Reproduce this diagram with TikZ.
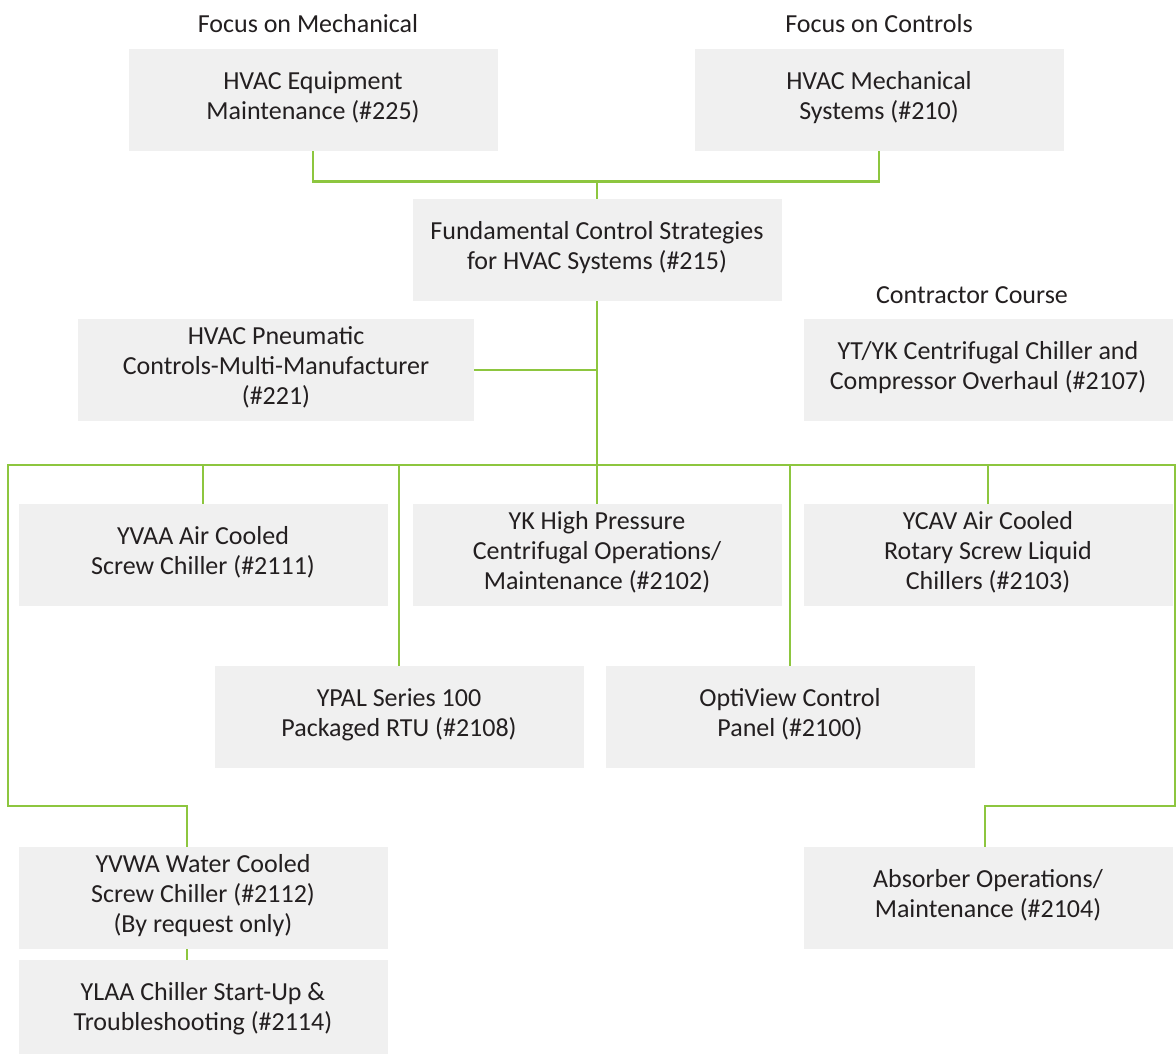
\documentclass[tikz,border=0pt]{standalone}
\usepackage{fontspec}
\setmainfont{Carlito}
\definecolor{jgreen}{HTML}{8DC63F}
\definecolor{boxgray}{HTML}{F0F0F0}
\definecolor{txt}{HTML}{231F20}
\tikzset{
  course/.style={fill=boxgray, draw=none, minimum width=369pt, minimum height=102pt,
    inner sep=0pt, align=center, text=txt, font=\fontsize{26}{30}\selectfont,
    execute at begin node=\strut, execute at end node=\strut},
  heading/.style={text=txt, font=\fontsize{26}{30}\selectfont, inner sep=0pt, anchor=base},
  link/.style={draw=jgreen, line width=2.7pt}
}
\begin{document}
\begin{tikzpicture}[x=1pt,y=-1pt]
\useasboundingbox (0,0) rectangle (1176,1053);
\clip (0,0) rectangle (1176,1053);
\fill[white] (0,0) rectangle (1176,1053);

% headings
\node[heading] (hMech) at (308,32) {Focus on Mechanical};
\node[heading] (hCtrl) at (879,32) {Focus on Controls};
\node[heading] (hContr) at (972,303) {Contractor Course};

% course boxes
\node[course] (c225) at (313,100) {HVAC Equipment\\Maintenance (\#225)};
\node[course] (c210) at (879,100) {HVAC Mechanical\\Systems (\#210)};
\node[course] (c215) at (597,250) {Fundamental Control Strategies\\for HVAC Systems (\#215)};
\node[course, minimum width=396pt] (c221) at (276,370) {HVAC Pneumatic\\Controls-Multi-Manufacturer\\(\#221)};
\node[course] (c2107) at (988,370) {YT/YK Centrifugal Chiller and\\Compressor Overhaul (\#2107)};
\node[course] (c2111) at (203,555) {YVAA Air Cooled\\Screw Chiller (\#2111)};
\node[course] (c2102) at (597,555) {YK High Pressure\\Centrifugal Operations/\\Maintenance (\#2102)};
\node[course] (c2103) at (988,555) {YCAV Air Cooled\\Rotary Screw Liquid\\Chillers (\#2103)};
\node[course] (c2108) at (399,717) {YPAL Series 100\\Packaged RTU (\#2108)};
\node[course] (c2100) at (790,717) {OptiView Control\\Panel (\#2100)};
\node[course] (c2112) at (203,898) {YVWA Water Cooled\\Screw Chiller (\#2112)\\(By request only)};
\node[course] (c2114) at (203,1011) {YLAA Chiller Start-Up \&\\Troubleshooting (\#2114)};
\node[course] (c2104) at (988,898) {Absorber Operations/\\Maintenance (\#2104)};

% connectors
\coordinate (topbus) at (597,181);
\coordinate (busL) at (8,465);
\coordinate (busR) at (1175,465);
\coordinate (lk) at (187,806);
\coordinate (rk) at (985,806);

\draw[link] (c225.south) -- ++(0,30) -| (c210.south);
\draw[link] (topbus) -- (c215.north);
\draw[link] (c215.south) -- (c2102.north);
\draw[link] (c221.east) -- (c221.east -| c215.south);
\draw[link] (lk |- c2112.north) -- (lk) -| (busL) -- (busR) |- (rk) -- (rk |- c2104.north);
\draw[link] (c2111.north) -- (c2111.north |- busL);
\draw[link] (c2108.north) -- (c2108.north |- busL);
\draw[link] (c2100.north) -- (c2100.north |- busL);
\draw[link] (c2103.north) -- (c2103.north |- busL);
\draw[link] (lk |- c2112.south) -- (lk |- c2114.north);
\end{tikzpicture}
\end{document}
